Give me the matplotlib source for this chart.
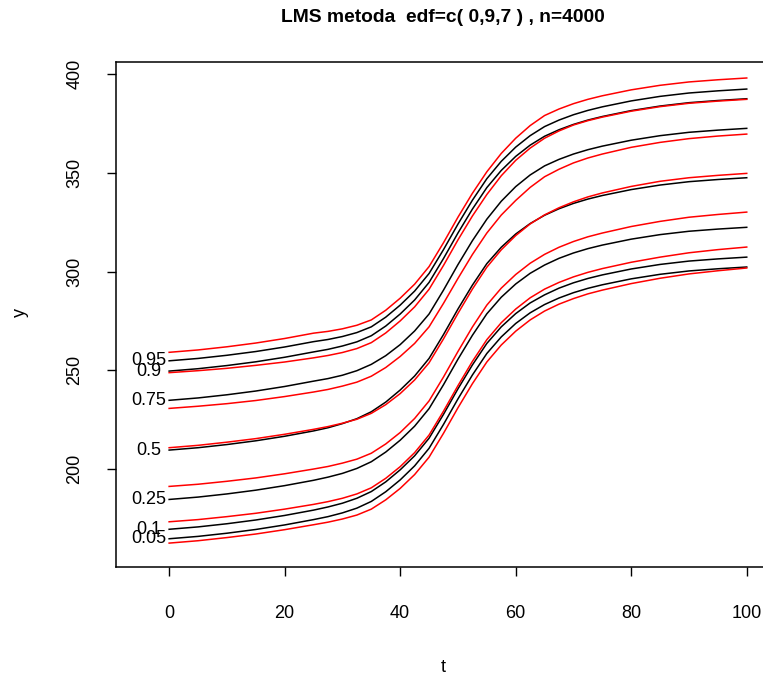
import matplotlib
matplotlib.use("Agg")
import matplotlib.pyplot as plt

plt.rcParams['font.family'] = ['Liberation Sans', 'DejaVu Sans']

# time grid shared by all centile curves (denser through the steep part)
t = [0, 5, 10, 15, 20, 25, 27.5, 30, 32.5, 35, 37.5, 40, 42.5, 45, 47.5, 50,
     52.5, 55, 57.5, 60, 62.5, 65, 67.5, 70, 72.5, 75, 80, 85, 90, 95, 100]

# fitted LMS centiles (black)
fit_05 = [164.7, 165.9, 167.5, 169.4, 171.7, 174.4, 175.9, 177.8, 180.2, 183.6, 188.5,
          194.5, 201.6, 210.5, 222.6, 235.5, 247.6, 258.5, 266.9, 273.7, 279.1, 283.3,
          286.6, 289.3, 291.5, 293.3, 296.3, 298.6, 300.3, 301.4, 302.3]
fit_10 = [169.5, 170.7, 172.3, 174.2, 176.5, 179.2, 180.8, 182.7, 185.2, 188.6, 193.5,
          199.6, 206.7, 215.6, 227.7, 240.6, 252.7, 263.6, 272.0, 278.7, 284.1, 288.2,
          291.6, 294.3, 296.5, 298.3, 301.3, 303.6, 305.3, 306.4, 307.3]
fit_25 = [184.6, 185.8, 187.4, 189.3, 191.6, 194.3, 195.9, 197.8, 200.3, 203.7, 208.6,
          214.6, 221.7, 230.6, 242.7, 255.6, 267.7, 278.6, 287.0, 293.7, 299.1, 303.3,
          306.7, 309.4, 311.6, 313.4, 316.4, 318.7, 320.4, 321.5, 322.4]
fit_50 = [209.6, 210.8, 212.4, 214.3, 216.6, 219.3, 220.9, 223.0, 225.5, 229.0, 233.9,
          240.0, 247.1, 256.0, 268.1, 281.0, 293.1, 304.0, 312.3, 319.0, 324.3, 328.5,
          331.8, 334.5, 336.7, 338.5, 341.5, 343.8, 345.5, 346.6, 347.5]
fit_75 = [234.8, 236.0, 237.6, 239.5, 241.8, 244.5, 245.8, 247.5, 249.8, 253.0, 257.4,
          263.0, 269.9, 278.5, 290.6, 303.5, 315.6, 326.5, 335.6, 343.0, 348.9, 353.5,
          356.8, 359.5, 361.7, 363.5, 366.5, 368.8, 370.5, 371.6, 372.5]
fit_90 = [249.6, 250.8, 252.4, 254.3, 256.6, 259.3, 260.6, 262.3, 264.4, 267.5, 272.4,
          278.5, 285.6, 294.5, 306.6, 319.5, 331.6, 342.5, 351.2, 358.3, 364.0, 368.5,
          371.8, 374.5, 376.7, 378.5, 381.5, 383.8, 385.5, 386.6, 387.5]
fit_95 = [254.8, 256.0, 257.6, 259.5, 261.8, 264.5, 265.6, 267.1, 269.1, 272.0, 276.9,
          283.0, 290.1, 299.0, 311.1, 324.0, 336.1, 347.0, 355.8, 363.0, 368.8, 373.4,
          376.7, 379.4, 381.6, 383.4, 386.4, 388.7, 390.4, 391.5, 392.4]

# true centiles (red)
true_05 = [162.5, 163.7, 165.3, 167.1, 169.3, 171.8, 173.1, 174.7, 176.7, 179.7, 184.4,
           190.2, 197.2, 206.0, 218.1, 231.0, 243.2, 254.2, 262.8, 269.8, 275.5, 280.0,
           283.5, 286.3, 288.7, 290.6, 293.9, 296.6, 298.8, 300.4, 301.8]
true_10 = [173.3, 174.4, 175.9, 177.6, 179.7, 182.1, 183.5, 185.2, 187.4, 190.5, 195.3,
           201.2, 208.3, 217.2, 229.3, 242.2, 254.5, 265.5, 274.1, 281.0, 286.7, 291.1,
           294.5, 297.3, 299.6, 301.5, 304.7, 307.3, 309.5, 311.1, 312.4]
true_25 = [191.2, 192.3, 193.8, 195.5, 197.6, 200.0, 201.3, 203.0, 205.0, 208.0, 212.7,
           218.5, 225.6, 234.5, 246.6, 259.5, 271.9, 283.0, 291.6, 298.5, 304.2, 308.7,
           312.3, 315.2, 317.6, 319.5, 322.8, 325.4, 327.5, 328.9, 330.1]
true_50 = [210.8, 212.0, 213.6, 215.4, 217.6, 220.1, 221.5, 223.2, 225.2, 228.2, 232.6,
           238.2, 245.1, 253.8, 265.9, 278.8, 291.1, 302.2, 311.0, 318.2, 324.1, 328.7,
           332.3, 335.3, 337.8, 339.8, 343.1, 345.7, 347.5, 348.7, 349.7]
true_75 = [230.7, 231.8, 233.1, 234.7, 236.7, 239.0, 240.3, 242.0, 244.0, 247.0, 251.4,
           257.0, 263.6, 272.0, 283.9, 296.5, 308.6, 319.5, 328.6, 336.0, 342.6, 348.0,
           351.8, 355.0, 357.5, 359.5, 362.9, 365.4, 367.3, 368.6, 369.6]
true_90 = [248.8, 249.8, 251.0, 252.5, 254.2, 256.3, 257.5, 259.0, 261.0, 264.0, 268.9,
           275.0, 282.1, 291.0, 303.1, 316.0, 328.1, 339.0, 348.5, 356.3, 362.5, 367.5,
           371.2, 374.2, 376.4, 378.2, 381.2, 383.5, 385.2, 386.3, 387.2]
true_95 = [259.1, 260.3, 261.9, 263.8, 266.1, 268.8, 269.7, 271.0, 272.8, 275.5, 280.4,
           286.5, 293.6, 302.5, 314.6, 327.5, 339.6, 350.5, 359.8, 367.5, 373.9, 379.0,
           382.3, 385.0, 387.2, 389.0, 392.0, 394.3, 396.0, 397.1, 398.0]

centile_labels = ['0.05', '0.1', '0.25', '0.5', '0.75', '0.9', '0.95']
fitted = [fit_05, fit_10, fit_25, fit_50, fit_75, fit_90, fit_95]
true = [true_05, true_10, true_25, true_50, true_75, true_90, true_95]

W, H = 763, 677
fig = plt.figure(figsize=(W / 100, H / 100), dpi=100)
# plot region runs a little past the right edge of the image
ax = fig.add_axes([116 / W, 1 - 567 / H, (771 - 116) / W, (567 - 62) / H])

for curve in fitted:
    ax.plot(t, curve, color='black', lw=1.1)
for curve in true:
    ax.plot(t, curve, color='red', lw=1.1)

# centile names at the start of each fitted curve
for lab, curve in zip(centile_labels, fitted):
    ax.text(-3.6, curve[0], lab, ha='center', va='center', fontsize=13)

ax.set_xlim(-9.2, 104.2)
ax.set_ylim(150.4, 406.1)
ax.set_xticks([0, 20, 40, 60, 80, 100])
ax.set_yticks([200, 250, 300, 350, 400])
ax.set_yticklabels(['200', '250', '300', '350', '400'], rotation=90, va='center')
ax.tick_params(axis='both', direction='out', length=6.5, width=1, labelsize=13)
ax.tick_params(axis='x', pad=21)
ax.tick_params(axis='y', pad=17)
for sp in ax.spines.values():
    sp.set_linewidth(1.1)

fig.text(443 / W, 1 - 18 / H, 'LMS metoda  edf=c( 0,9,7 ) , n=4000',
         ha='center', va='center', fontsize=13.9, fontweight='bold')
fig.text(443 / W, 1 - 667 / H, 't', ha='center', va='center', fontsize=13)
fig.text(20 / W, 1 - 313 / H, 'y', ha='center', va='center', fontsize=13, rotation=90)

fig.savefig('out.png', dpi=100)
